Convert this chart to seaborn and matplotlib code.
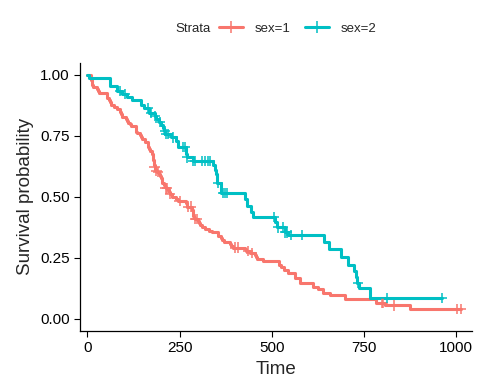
import numpy as np
import pandas as pd
import seaborn as sns
import matplotlib.pyplot as plt
from matplotlib.lines import Line2D

# Kaplan-Meier steps (time, survival)
male_time = [0, 11, 12, 13, 15, 26, 30, 31, 53, 54, 59, 60, 65, 71, 81, 88, 92, 93, 95, 105,
             107, 110, 116, 118, 131, 132, 135, 142, 144, 147, 156, 163, 166, 170, 175, 176,
             177, 179, 180, 181, 182, 183, 186, 189, 194, 197, 199, 201, 202, 208, 210, 212,
             218, 222, 223, 229, 230, 239, 246, 267, 269, 270, 283, 284, 285, 286, 288, 291,
             301, 303, 306, 310, 320, 329, 337, 353, 363, 364, 371, 387, 390, 394, 428, 429,
             442, 455, 457, 460, 477, 519, 524, 533, 545, 562, 576, 611, 625, 639, 657, 698,
             782, 806, 874]
male_surv = [1.0, 0.978, 0.971, 0.957, 0.949, 0.942, 0.935, 0.928, 0.913, 0.906, 0.899, 0.891,
             0.877, 0.870, 0.862, 0.848, 0.841, 0.833, 0.826, 0.819, 0.812, 0.804, 0.797, 0.790,
             0.783, 0.768, 0.761, 0.754, 0.746, 0.739, 0.725, 0.703, 0.696, 0.688, 0.681, 0.674,
             0.666, 0.652, 0.645, 0.630, 0.623, 0.616, 0.608, 0.601, 0.594, 0.586, 0.579, 0.565,
             0.557, 0.550, 0.542, 0.535, 0.528, 0.520, 0.513, 0.505, 0.498, 0.490, 0.483, 0.475,
             0.468, 0.460, 0.453, 0.445, 0.430, 0.423, 0.415, 0.408, 0.400, 0.393, 0.385, 0.377,
             0.370, 0.362, 0.354, 0.339, 0.331, 0.323, 0.316, 0.308, 0.300, 0.292, 0.285, 0.277,
             0.269, 0.262, 0.254, 0.246, 0.238, 0.222, 0.212, 0.200, 0.186, 0.168, 0.148, 0.131,
             0.123, 0.107, 0.098, 0.082, 0.066, 0.055, 0.041]
male_censor = [182, 187, 192, 212, 216, 224, 250, 272, 280, 292, 296, 400, 408, 435, 445,
               798, 801, 830, 1001, 1012]

female_time = [0, 5, 60, 61, 62, 79, 81, 95, 107, 122, 145, 153, 166, 167, 182, 186, 194, 199,
               205, 208, 211, 226, 239, 245, 246, 266, 268, 269, 285, 340, 345, 348, 350, 351,
               361, 363, 426, 433, 444, 450, 508, 513, 535, 543, 641, 654, 687, 705, 723, 728,
               731, 735, 765]
female_surv = [1.0, 0.989, 0.978, 0.966, 0.955, 0.944, 0.933, 0.922, 0.910, 0.899, 0.876, 0.865,
               0.854, 0.843, 0.831, 0.819, 0.807, 0.795, 0.783, 0.770, 0.757, 0.744, 0.731, 0.718,
               0.704, 0.690, 0.676, 0.662, 0.648, 0.630, 0.612, 0.594, 0.576, 0.558, 0.538, 0.516,
               0.490, 0.463, 0.440, 0.418, 0.398, 0.375, 0.354, 0.344, 0.316, 0.285, 0.254, 0.222,
               0.195, 0.170, 0.148, 0.127, 0.086]
female_censor = [88, 102, 164, 172, 183, 196, 210, 214, 218, 232, 259, 265, 270, 286, 291, 310,
                 318, 327, 332, 354, 367, 372, 378, 506, 516, 529, 535, 540, 551, 581, 733, 811, 960]

strata = ["sex=1", "sex=2"]
colors = ["#F8766D", "#00BFC4"]


def curve_frame(times, surv, censor, label):
    t = list(times) + [max(censor)]
    s = list(surv) + [surv[-1]]
    steps = pd.DataFrame({"time": t, "surv": s, "Strata": label})
    idx = np.searchsorted(times, censor, side="right") - 1
    marks = pd.DataFrame({"time": censor, "surv": np.array(surv)[idx], "Strata": label})
    return steps, marks


s1, m1 = curve_frame(male_time, male_surv, male_censor, strata[0])
s2, m2 = curve_frame(female_time, female_surv, female_censor, strata[1])
steps = pd.concat([s1, s2], ignore_index=True)
marks = pd.concat([m1, m2], ignore_index=True)

sns.set_style("white")
plt.rcParams["font.family"] = ["Liberation Sans", "DejaVu Sans"]

fig = plt.figure(figsize=(4.8, 3.84), dpi=100)
ax = fig.add_axes([0.1667, 0.138, 0.8163, 0.6985])
palette = dict(zip(strata, colors))

sns.lineplot(data=steps, x="time", y="surv", hue="Strata", palette=palette,
             drawstyle="steps-post", estimator=None, sort=False, linewidth=2.2,
             legend=False, ax=ax)
sns.scatterplot(data=marks, x="time", y="surv", hue="Strata", palette=palette,
                marker="+", s=55, linewidth=1.1, legend=False, ax=ax, zorder=3)

ax.set_xlim(-20, 1042)
ax.set_ylim(-0.05, 1.05)
ax.set_xticks([0, 250, 500, 750, 1000])
ax.set_yticks([0, 0.25, 0.5, 0.75, 1.0])
ax.set_yticklabels(["0.00", "0.25", "0.50", "0.75", "1.00"])
ax.set_xlabel("Time", fontsize=13.5)
ax.set_ylabel("Survival probability", fontsize=13.5)
ax.tick_params(axis="both", labelsize=11, colors="black", direction="out",
               length=4, width=0.8, bottom=True, left=True)
for side in ["top", "right"]:
    ax.spines[side].set_visible(False)
for side in ["left", "bottom"]:
    ax.spines[side].set_color("black")
    ax.spines[side].set_linewidth(0.9)

fig.text(0.366, 0.925, "Strata", fontsize=9.5, va="center")
handles = [Line2D([], [], color=c, lw=2.2, marker="+", markersize=8, markeredgewidth=1.1)
           for c in colors]
fig.legend(handles, strata, loc="center left", bbox_to_anchor=(0.456, 0.925), ncol=2,
           frameon=False, fontsize=9.5, handlelength=1.8, columnspacing=1.1,
           handletextpad=0.9, borderaxespad=0, borderpad=0)

fig.savefig("out.png", dpi=100)
